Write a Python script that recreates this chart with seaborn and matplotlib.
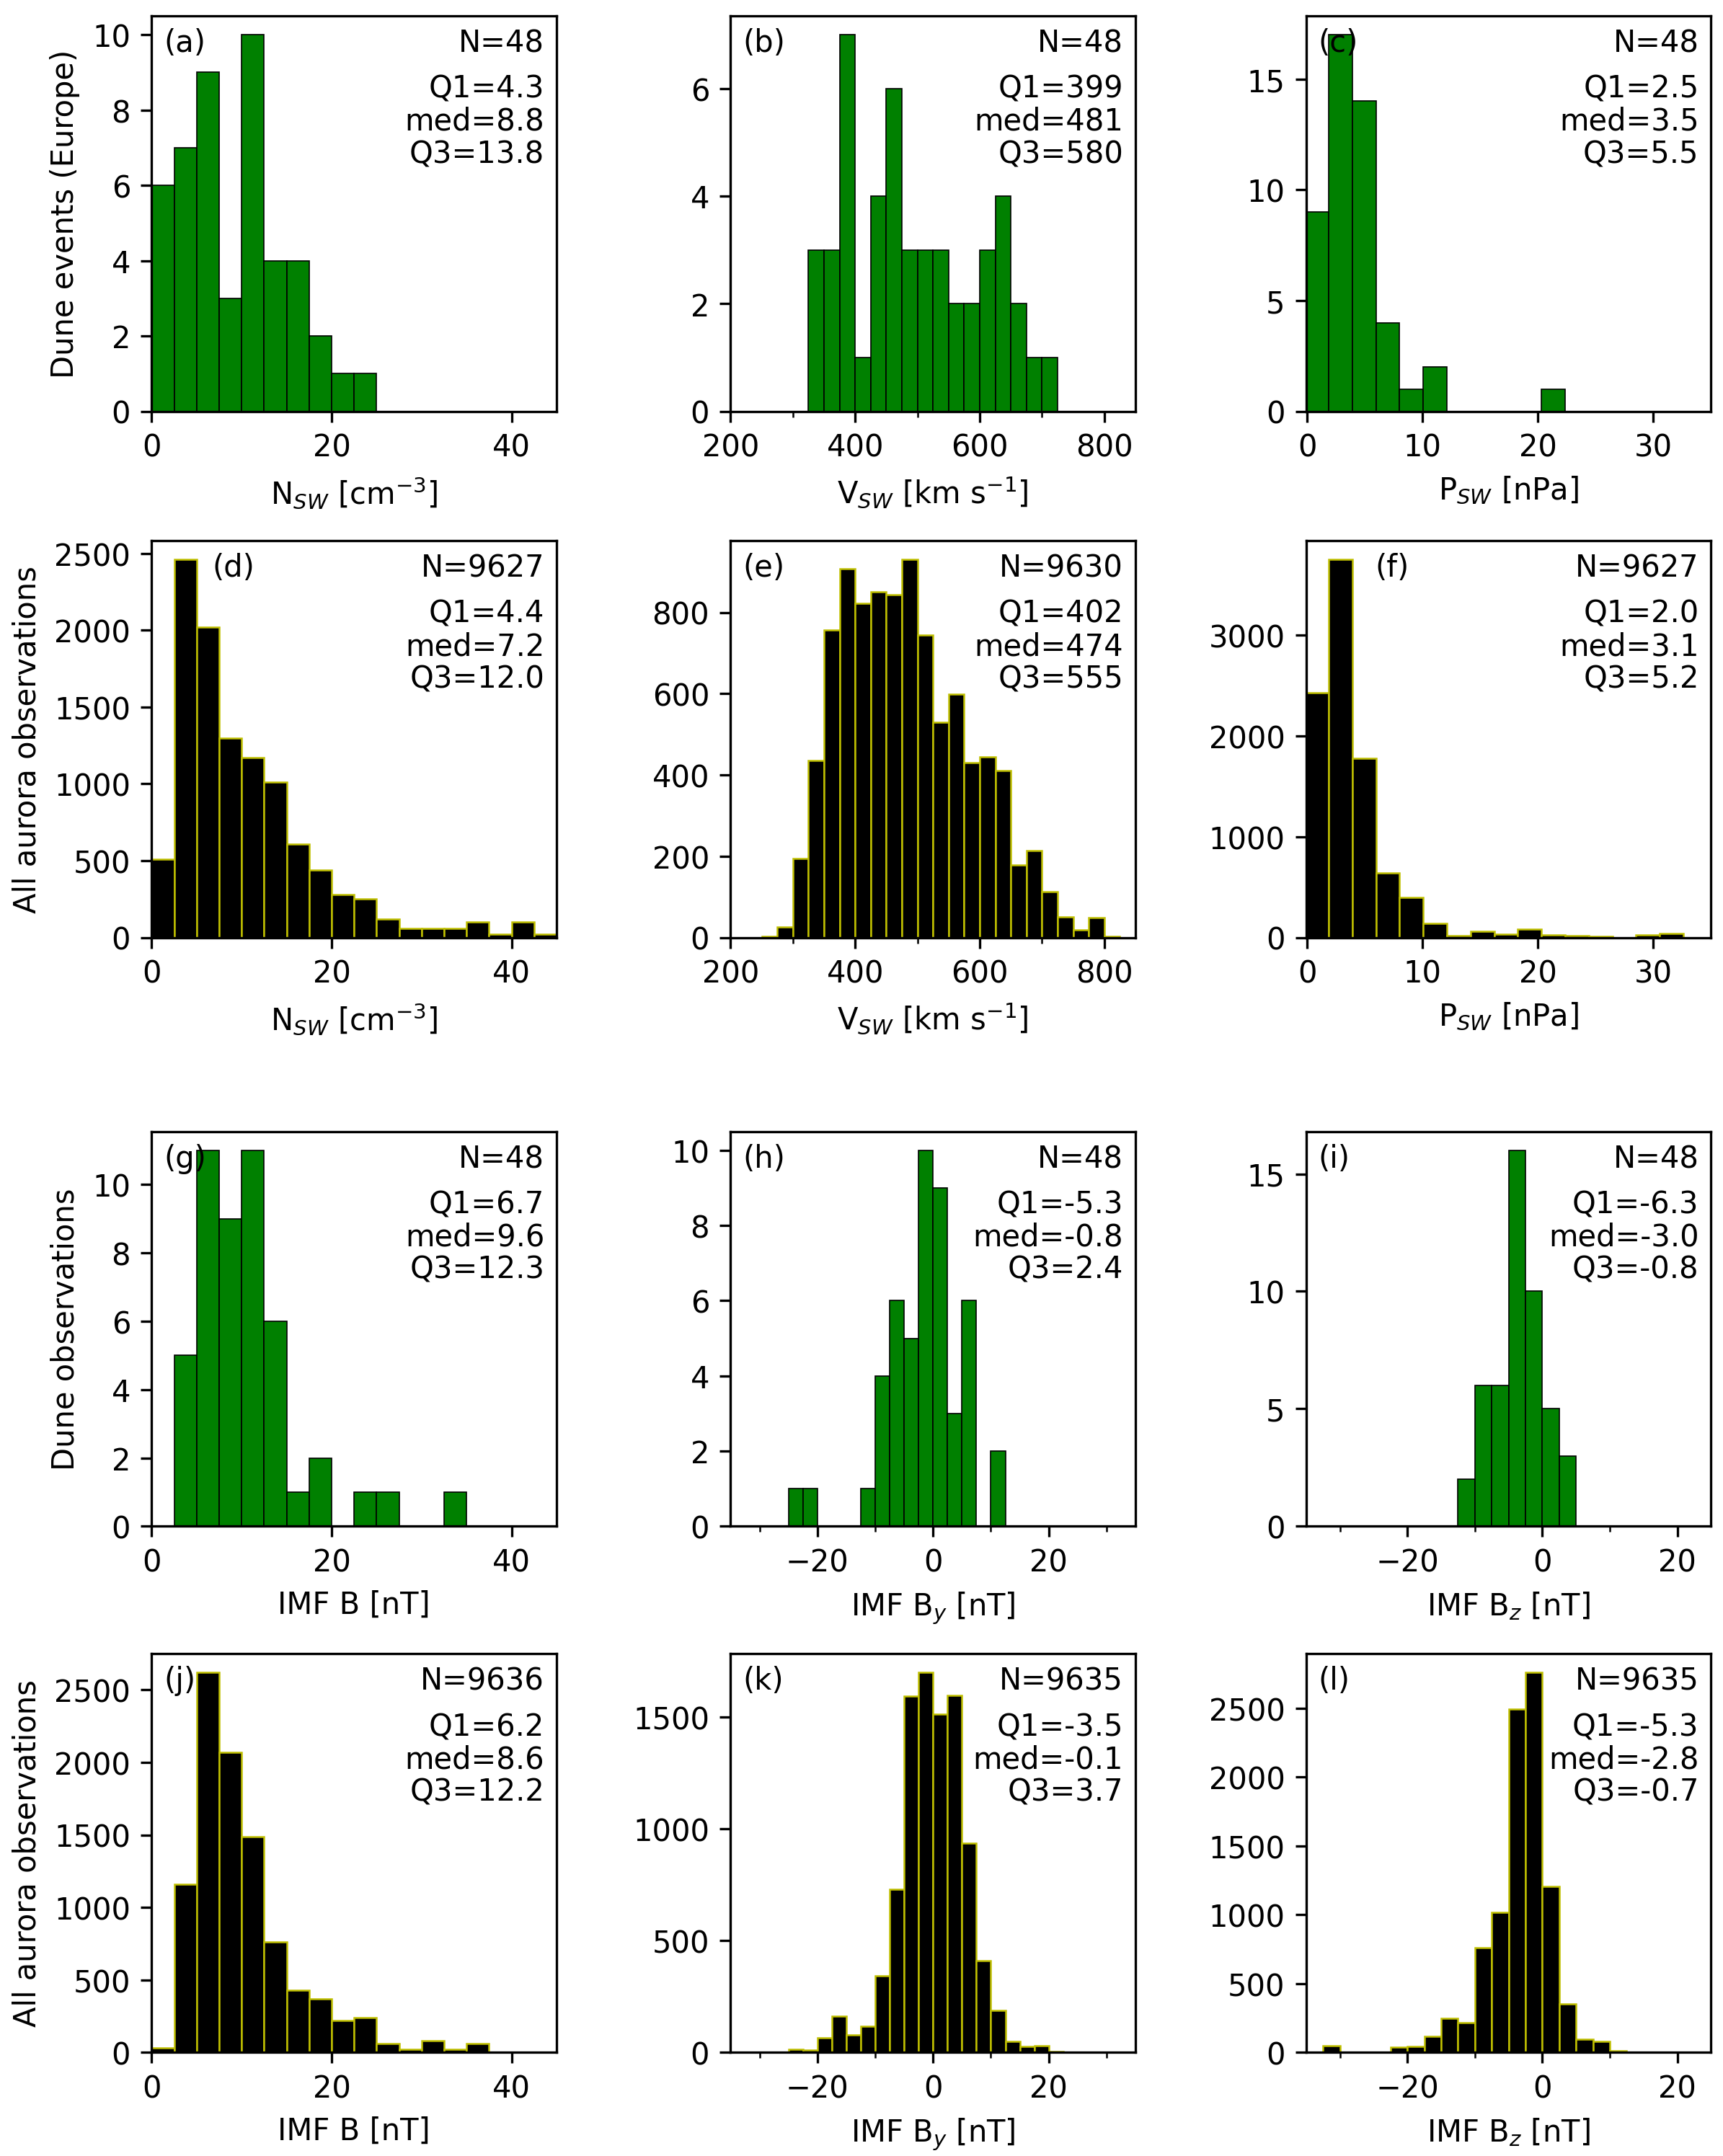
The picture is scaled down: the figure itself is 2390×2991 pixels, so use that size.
import matplotlib
matplotlib.use("Agg")
import matplotlib.pyplot as plt
from matplotlib.ticker import MultipleLocator
import pandas as pd
import seaborn as sns

# ---- bin edges (start, width, count) and counts per panel ----
n_dune_edges = (0, 2.5, 10)
n_dune = [6, 7, 9, 3, 10, 4, 4, 2, 1, 1]
v_dune_edges = (325, 25, 16)
v_dune = [3, 3, 7, 1, 4, 6, 3, 3, 3, 2, 2, 3, 4, 2, 1, 1]
p_dune_edges = (-0.2, 2.05, 11)
p_dune = [9, 17, 14, 4, 1, 2, 0, 0, 0, 0, 1]

n_all_edges = (0, 2.5, 18)
n_all = [510, 2460, 2020, 1300, 1170, 1010, 610, 440, 280, 250, 120, 60, 60, 60, 100, 20, 100, 20]
v_all_edges = (250, 25, 23)
v_all = [2, 25, 195, 436, 757, 907, 823, 850, 843, 930, 745, 529, 599, 430, 445, 410,
         178, 214, 113, 51, 18, 49, 3]
p_all_edges = (-0.2, 2.05, 16)
p_all = [2430, 3750, 1780, 640, 400, 137, 21, 58, 31, 84, 26, 18, 8, 0, 26, 37]

b_dune_edges = (0, 2.5, 14)
b_dune = [0, 5, 11, 9, 11, 6, 1, 2, 0, 1, 1, 0, 0, 1]
by_dune_edges = (-25, 2.5, 15)
by_dune = [1, 1, 0, 0, 0, 1, 4, 6, 5, 10, 9, 3, 6, 0, 2]
bz_dune_edges = (-12.5, 2.5, 7)
bz_dune = [2, 6, 6, 16, 10, 5, 3]

b_all_edges = (0, 2.5, 15)
b_all = [30, 1160, 2620, 2070, 1490, 760, 430, 370, 220, 240, 60, 20, 80, 20, 60]
by_all_edges = (-27.5, 2.5, 20)
by_all = [2, 15, 10, 67, 163, 79, 117, 343, 730, 1595, 1700, 1513, 1598, 938, 412,
          188, 51, 27, 30, 4]
bz_all_edges = (-32.5, 2.5, 20)
bz_all = [49, 0, 0, 4, 39, 45, 118, 246, 216, 760, 1018, 2495, 2760, 1204, 354,
          98, 79, 10, 4, 4]

stats = {
    "a": ("N=48", "Q1=4.3\nmed=8.8\nQ3=13.8"),
    "b": ("N=48", "Q1=399\nmed=481\nQ3=580"),
    "c": ("N=48", "Q1=2.5\nmed=3.5\nQ3=5.5"),
    "d": ("N=9627", "Q1=4.4\nmed=7.2\nQ3=12.0"),
    "e": ("N=9630", "Q1=402\nmed=474\nQ3=555"),
    "f": ("N=9627", "Q1=2.0\nmed=3.1\nQ3=5.2"),
    "g": ("N=48", "Q1=6.7\nmed=9.6\nQ3=12.3"),
    "h": ("N=48", "Q1=-5.3\nmed=-0.8\nQ3=2.4"),
    "i": ("N=48", "Q1=-6.3\nmed=-3.0\nQ3=-0.8"),
    "j": ("N=9636", "Q1=6.2\nmed=8.6\nQ3=12.2"),
    "k": ("N=9635", "Q1=-3.5\nmed=-0.1\nQ3=3.7"),
    "l": ("N=9635", "Q1=-5.3\nmed=-2.8\nQ3=-0.7"),
}
tag_x = {"d": 0.15, "f": 0.17}

xlabels = {
    "N": r"N$_{SW}$ [cm$^{-3}$]", "V": r"V$_{SW}$ [km s$^{-1}$]", "P": r"P$_{SW}$ [nPa]",
    "B": "IMF B [nT]", "By": r"IMF B$_y$ [nT]", "Bz": r"IMF B$_z$ [nT]",
}
xlims = {"N": (0, 45), "V": (200, 850), "P": (-0.1, 35),
         "B": (0, 45), "By": (-35, 35), "Bz": (-35, 25)}
minor = {"V": 100, "By": 10, "Bz": 10}
ylabels = ["Dune events (Europe)", "All aurora observations",
           "Dune observations", "All aurora observations"]

panels = [
    [("a", "N", n_dune_edges, n_dune), ("b", "V", v_dune_edges, v_dune), ("c", "P", p_dune_edges, p_dune)],
    [("d", "N", n_all_edges, n_all), ("e", "V", v_all_edges, v_all), ("f", "P", p_all_edges, p_all)],
    [("g", "B", b_dune_edges, b_dune), ("h", "By", by_dune_edges, by_dune), ("i", "Bz", bz_dune_edges, bz_dune)],
    [("j", "B", b_all_edges, b_all), ("k", "By", by_all_edges, by_all), ("l", "Bz", bz_all_edges, bz_all)],
]

fig = plt.figure(figsize=(7.967, 9.973), dpi=300)
lefts = [0.088, 0.424, 0.758]
w = 0.235
row_spans = [(0.809, 0.9923), (0.565, 0.749), (0.292, 0.475), (0.048, 0.233)]

for r, row in enumerate(panels):
    bottom, top = row_spans[r]
    dune = r in (0, 2)
    face = "green" if dune else "black"
    edge = "black" if dune else "y"
    lw = 0.4 if dune else 0.6
    for c, (tag, var, (start, width, nb), counts) in enumerate(row):
        ax = fig.add_axes([lefts[c], bottom, w, top - bottom])
        edges = [start + width * k for k in range(nb + 1)]
        df = pd.DataFrame({"x": [(edges[k] + edges[k + 1]) / 2 for k in range(nb)],
                           "w": counts})
        sns.histplot(data=df, x="x", weights="w", bins=edges, ax=ax,
                     color=face, edgecolor=edge, linewidth=lw, alpha=1)
        ax.set_xlim(*xlims[var])
        if var in minor:
            ax.xaxis.set_minor_locator(MultipleLocator(minor[var]))
        ax.set_xlabel(xlabels[var], fontsize=10)
        ax.set_ylabel(ylabels[r] if c == 0 else "", fontsize=10)
        ax.tick_params(labelsize=10)
        ax.text(tag_x.get(tag, 0.03), 0.97, f"({tag})", transform=ax.transAxes,
                ha="left", va="top", fontsize=10)
        nlab, qlab = stats[tag]
        ax.text(0.97, 0.97, nlab, transform=ax.transAxes, ha="right", va="top", fontsize=10)
        ax.text(0.97, 0.855, qlab, transform=ax.transAxes, ha="right", va="top",
                fontsize=10, linespacing=1.1)

fig.savefig("out.png", dpi=300)
